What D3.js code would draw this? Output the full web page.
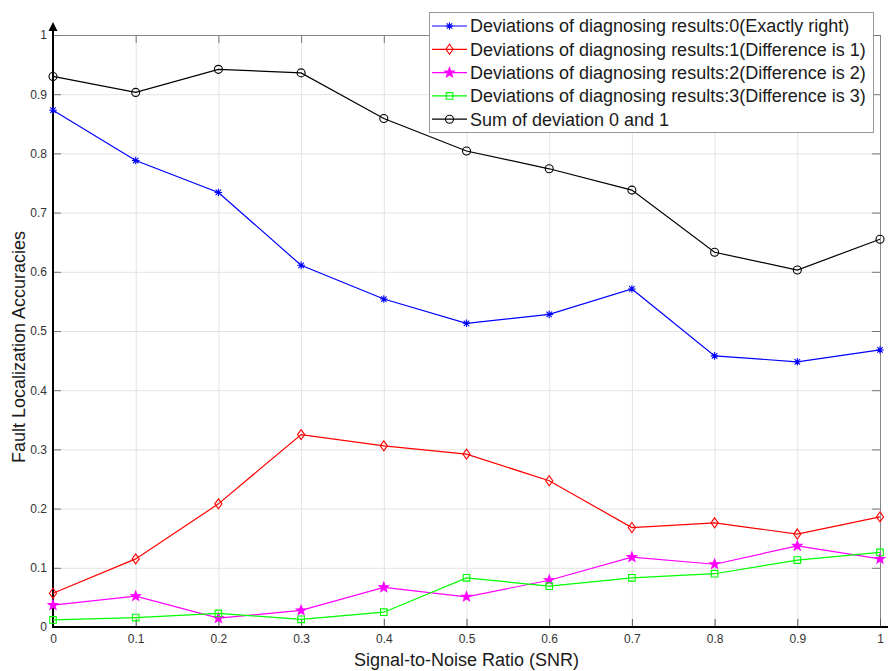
<!DOCTYPE html>
<html>
<head>
<meta charset="utf-8">
<script src="https://cdn.jsdelivr.net/npm/d3@7"></script>
<style>
  body { margin: 0; background: #fff; }
  svg { display: block; font-family: "Liberation Sans", Arial, sans-serif; }
</style>
</head>
<body>
<div id="chart"></div>
<script>
// SNR values on the x axis
var snr = [0, 0.1, 0.2, 0.3, 0.4, 0.5, 0.6, 0.7, 0.8, 0.9, 1];

// accuracies
var dev0 = [0.873, 0.788, 0.734, 0.611, 0.554, 0.513, 0.528, 0.571, 0.458, 0.448, 0.468];
var dev1 = [0.057, 0.115, 0.208, 0.325, 0.306, 0.292, 0.247, 0.168, 0.176, 0.157, 0.186];
var dev2 = [0.037, 0.052, 0.015, 0.028, 0.067, 0.051, 0.079, 0.118, 0.106, 0.137, 0.115];
var dev3 = [0.012, 0.016, 0.023, 0.013, 0.025, 0.083, 0.069, 0.083, 0.090, 0.113, 0.126];
var sum01 = [0.930, 0.903, 0.942, 0.936, 0.859, 0.804, 0.774, 0.738, 0.633, 0.603, 0.655];

var xTicks = [0, 0.1, 0.2, 0.3, 0.4, 0.5, 0.6, 0.7, 0.8, 0.9, 1];
var yTicks = [0, 0.1, 0.2, 0.3, 0.4, 0.5, 0.6, 0.7, 0.8, 0.9, 1];

var legendLabels = [
  'Deviations of diagnosing results:0(Exactly right)',
  'Deviations of diagnosing results:1(Difference is 1)',
  'Deviations of diagnosing results:2(Difference is 2)',
  'Deviations of diagnosing results:3(Difference is 3)',
  'Sum of deviation 0 and 1'
];

// custom marker shapes (MATLAB style)
var asterisk = {
  draw: function(ctx) {
    var r = 3.8, d = r * 0.72;
    ctx.moveTo(-r, 0); ctx.lineTo(r, 0);
    ctx.moveTo(0, -r); ctx.lineTo(0, r);
    ctx.moveTo(-d, -d); ctx.lineTo(d, d);
    ctx.moveTo(-d, d); ctx.lineTo(d, -d);
  }
};
var diamond = {
  draw: function(ctx) {
    ctx.moveTo(0, -5); ctx.lineTo(3.6, 0); ctx.lineTo(0, 5); ctx.lineTo(-3.6, 0); ctx.closePath();
  }
};
var pentagram = {
  draw: function(ctx) {
    var ro = 5, ri = 2.1;
    for (var i = 0; i < 10; i++) {
      var r = i % 2 === 0 ? ro : ri;
      var a = -Math.PI / 2 + i * Math.PI / 5;
      if (i === 0) ctx.moveTo(r * Math.cos(a), r * Math.sin(a));
      else ctx.lineTo(r * Math.cos(a), r * Math.sin(a));
    }
    ctx.closePath();
  }
};
var square = {
  draw: function(ctx) { ctx.rect(-3.3, -3.3, 6.6, 6.6); }
};
var circle = {
  draw: function(ctx) { ctx.moveTo(4, 0); ctx.arc(0, 0, 4, 0, 2 * Math.PI); }
};

var series = [
  { values: dev0, color: '#0000ff', shape: asterisk, fill: 'none' },
  { values: dev1, color: '#ff0000', shape: diamond, fill: 'none' },
  { values: dev2, color: '#ff00ff', shape: pentagram, fill: '#ff00ff' },
  { values: dev3, color: '#00ff00', shape: square, fill: 'none' },
  { values: sum01, color: '#000000', shape: circle, fill: 'none' }
];

var width = 888;
var height = 671;
var plotLeft = 53, plotRight = 880, plotTop = 35, plotBottom = 627;

var xScale = d3.scaleLinear().domain([0, 1]).range([plotLeft, plotRight]);
var yScale = d3.scaleLinear().domain([0, 1]).range([plotBottom, plotTop]);

var svg = d3.select('#chart').append('svg')
  .attr('width', width)
  .attr('height', height);

// grid
svg.append('g')
  .attr('transform', 'translate(0,' + plotBottom + ')')
  .call(d3.axisBottom(xScale).tickValues(xTicks).tickSize(-(plotBottom - plotTop)).tickFormat(''))
  .call(function(g) {
    g.select('.domain').remove();
    g.selectAll('line').attr('stroke', '#e3e3e3');
  });
svg.append('g')
  .attr('transform', 'translate(' + plotLeft + ',0)')
  .call(d3.axisLeft(yScale).tickValues(yTicks).tickSize(-(plotRight - plotLeft)).tickFormat(''))
  .call(function(g) {
    g.select('.domain').remove();
    g.selectAll('line').attr('stroke', '#e3e3e3');
  });

// box top and right, with inward ticks
svg.append('g')
  .attr('transform', 'translate(0,' + plotTop + ')')
  .call(d3.axisTop(xScale).tickValues(xTicks).tickSize(-8).tickSizeOuter(0).tickFormat(''))
  .call(function(g) {
    g.select('.domain').attr('stroke', '#888');
    g.selectAll('line').attr('stroke', '#777');
  });
svg.append('g')
  .attr('transform', 'translate(' + plotRight + ',0)')
  .call(d3.axisRight(yScale).tickValues(yTicks).tickSize(-8).tickSizeOuter(0).tickFormat(''))
  .call(function(g) {
    g.select('.domain').attr('stroke', '#888');
    g.selectAll('line').attr('stroke', '#777');
  });

// bottom and left axes with labels
svg.append('g')
  .attr('transform', 'translate(0,' + plotBottom + ')')
  .call(d3.axisBottom(xScale).tickValues(xTicks).tickSize(-8).tickSizeOuter(0).tickPadding(7).tickFormat(d3.format('~g')))
  .call(function(g) {
    g.attr('font-family', null).attr('font-size', null);
    g.select('.domain').remove();
    g.selectAll('line').attr('stroke', '#555');
    g.selectAll('text').attr('font-size', 12).attr('fill', '#333');
  });
svg.append('g')
  .attr('transform', 'translate(' + plotLeft + ',0)')
  .call(d3.axisLeft(yScale).tickValues(yTicks).tickSize(-8).tickSizeOuter(0).tickPadding(6).tickFormat(d3.format('~g')))
  .call(function(g) {
    g.attr('font-family', null).attr('font-size', null);
    g.select('.domain').remove();
    g.selectAll('line').attr('stroke', '#777');
    g.selectAll('text').attr('font-size', 12).attr('fill', '#333');
  });

// thick axis lines and arrow
svg.append('line')
  .attr('x1', plotLeft - 1).attr('x2', width)
  .attr('y1', plotBottom).attr('y2', plotBottom)
  .attr('stroke', '#000').attr('stroke-width', 2);
svg.append('line')
  .attr('x1', plotLeft).attr('x2', plotLeft)
  .attr('y1', plotBottom + 1).attr('y2', plotTop - 5)
  .attr('stroke', '#000').attr('stroke-width', 2);
svg.append('path')
  .attr('d', 'M' + plotLeft + ',' + (plotTop - 13) + 'L' + (plotLeft + 4.5) + ',' + (plotTop - 4) + 'L' + (plotLeft - 4.5) + ',' + (plotTop - 4) + 'Z')
  .attr('fill', '#000');

// series lines and markers
var line = d3.line()
  .x(function(d, i) { return xScale(snr[i]); })
  .y(function(d) { return yScale(d); });

series.forEach(function(s) {
  svg.append('path')
    .datum(s.values)
    .attr('d', line)
    .attr('fill', 'none')
    .attr('stroke', s.color)
    .attr('stroke-width', 1.2);
  svg.append('g').selectAll('path')
    .data(s.values)
    .enter().append('path')
    .attr('d', d3.symbol().type(s.shape))
    .attr('transform', function(d, i) { return 'translate(' + xScale(snr[i]) + ',' + yScale(d) + ')'; })
    .attr('fill', s.fill)
    .attr('stroke', s.color)
    .attr('stroke-width', 1.1);
});

// axis titles
svg.append('text')
  .attr('x', (plotLeft + plotRight) / 2)
  .attr('y', 666)
  .attr('text-anchor', 'middle')
  .attr('font-size', 18)
  .attr('fill', '#1a1a1a')
  .text('Signal-to-Noise Ratio (SNR)');
svg.append('text')
  .attr('transform', 'translate(25,347) rotate(-90)')
  .attr('text-anchor', 'middle')
  .attr('font-size', 18)
  .attr('fill', '#1a1a1a')
  .text('Fault Localization Accuracies');

// legend
var legend = svg.append('g');
legend.append('rect')
  .attr('x', 429.5).attr('y', 12.5)
  .attr('width', 444).attr('height', 120)
  .attr('fill', '#fff')
  .attr('stroke', '#999');

var rows = legend.selectAll('g.row')
  .data(series)
  .enter().append('g')
  .attr('class', 'row')
  .attr('transform', function(d, i) { return 'translate(0,' + (26 + i * 23.3) + ')'; });
rows.append('line')
  .attr('x1', 432).attr('x2', 467)
  .attr('stroke', function(d) { return d.color; })
  .attr('stroke-width', 1.2);
rows.append('path')
  .attr('d', function(d) { return d3.symbol().type(d.shape)(); })
  .attr('transform', 'translate(449.5,0)')
  .attr('fill', function(d) { return d.fill; })
  .attr('stroke', function(d) { return d.color; })
  .attr('stroke-width', 1.1);
rows.append('text')
  .attr('x', 470)
  .attr('dy', '0.36em')
  .attr('font-size', 18)
  .attr('fill', '#1a1a1a')
  .text(function(d, i) { return legendLabels[i]; });
</script>
</body>
</html>
